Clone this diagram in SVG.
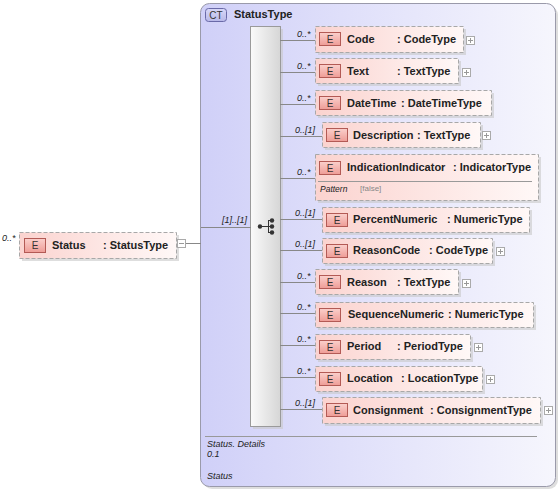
<svg xmlns="http://www.w3.org/2000/svg" width="560" height="491" viewBox="0 0 560 491">
<defs>
<linearGradient id="ctg" x1="0" y1="0" x2="1" y2="0">
<stop offset="0" stop-color="#d0d0f8"/>
<stop offset="1" stop-color="#f6f6fd"/>
</linearGradient>
<linearGradient id="eg" x1="0" y1="0" x2="1" y2="0">
<stop offset="0" stop-color="#fbd3cf"/>
<stop offset="1" stop-color="#fff8f7"/>
</linearGradient>
<linearGradient id="bg" x1="0" y1="0" x2="0" y2="1">
<stop offset="0" stop-color="#fbd0cc"/>
<stop offset="1" stop-color="#ee9c96"/>
</linearGradient>
<linearGradient id="sg" x1="0" y1="0" x2="1" y2="0">
<stop offset="0" stop-color="#fafafa"/>
<stop offset="1" stop-color="#d6d6d6"/>
</linearGradient>
<linearGradient id="ctb" x1="0" y1="0" x2="0" y2="1">
<stop offset="0" stop-color="#d8d8f8"/>
<stop offset="1" stop-color="#b8b8e8"/>
</linearGradient>
</defs>
<style>
text{font-family:"Liberation Sans",Arial,sans-serif;fill:#222}
.n{font-size:11px;font-weight:bold}
.m{font-size:9px;font-style:italic}
.b{font-size:10px;fill:#333}
.s{fill:#c8c8c8;opacity:0.6}
.ebox{fill:url(#eg);stroke:#a8a8a8;stroke-dasharray:4,2}
.badge{fill:url(#bg);stroke:#b35a55}
.pm{fill:#fff;stroke:#aaa}
.pml{stroke:#999;stroke-width:1}
.c{stroke:#888;stroke-width:1;fill:none}
</style>

<g id="complexType">
<rect x="203" y="6" width="355" height="483" rx="9" class="s"/>
<rect x="200.5" y="3.5" width="355" height="483" rx="9" fill="url(#ctg)" stroke="#9a9aaa"/>
<rect x="205.5" y="8.5" width="21" height="13" rx="3" fill="url(#ctb)" stroke="#6a6aa8"/>
<text x="216" y="19" class="b" text-anchor="middle" fill="#333">CT</text>
<text x="234" y="18" class="n">StatusType</text>
<line x1="205" y1="436.5" x2="537" y2="436.5" stroke="#999"/>
<text x="207" y="447" class="m">Status. Details</text>
<text x="207" y="457" class="m">0.1</text>
<text x="207" y="479" class="m">Status</text>
</g>

<g id="sequence">
<rect x="253" y="29" width="30" height="400" class="s"/>
<rect x="250.5" y="26.5" width="30" height="400" fill="url(#sg)" stroke="#9a9a9a"/>
<line x1="260" y1="226.5" x2="272" y2="226.5" stroke="#333"/>
<line x1="268.5" y1="221" x2="268.5" y2="233" stroke="#333"/>
<line x1="268" y1="220.5" x2="272" y2="220.5" stroke="#333"/>
<line x1="268" y1="232.5" x2="272" y2="232.5" stroke="#333"/>
<circle cx="260" cy="226.5" r="2.2" fill="#333"/>
<circle cx="272" cy="220.5" r="2.2" fill="#333"/>
<circle cx="272" cy="226.5" r="2.2" fill="#333"/>
<circle cx="272" cy="232.5" r="2.2" fill="#333"/>
</g>

<g id="connectors">
<line x1="186" y1="243.5" x2="201" y2="243.5" class="c"/>
<line x1="201" y1="227.5" x2="251" y2="227.5" class="c"/>
<line x1="280" y1="40.5" x2="315" y2="40.5" class="c"/>
<line x1="280" y1="72.5" x2="315" y2="72.5" class="c"/>
<line x1="280" y1="104.5" x2="315" y2="104.5" class="c"/>
<line x1="280" y1="136.5" x2="322" y2="136.5" class="c"/>
<line x1="280" y1="178.5" x2="315" y2="178.5" class="c"/>
<line x1="280" y1="219.5" x2="322" y2="219.5" class="c"/>
<line x1="280" y1="250.5" x2="322" y2="250.5" class="c"/>
<line x1="280" y1="282.5" x2="315" y2="282.5" class="c"/>
<line x1="280" y1="313.5" x2="315" y2="313.5" class="c"/>
<line x1="280" y1="345.5" x2="315" y2="345.5" class="c"/>
<line x1="280" y1="377.5" x2="315" y2="377.5" class="c"/>
<line x1="280" y1="409.5" x2="322" y2="409.5" class="c"/>
<text x="222" y="223" class="m">[1]..[1]</text>
<text x="2" y="241" class="m">0..*</text>
<text x="297" y="37" class="m">0..*</text>
<text x="297" y="69" class="m">0..*</text>
<text x="297" y="101" class="m">0..*</text>
<text x="295" y="133" class="m">0..[1]</text>
<text x="297" y="175" class="m">0..*</text>
<text x="295" y="216" class="m">0..[1]</text>
<text x="295" y="247" class="m">0..[1]</text>
<text x="297" y="279" class="m">0..*</text>
<text x="297" y="310" class="m">0..*</text>
<text x="297" y="342" class="m">0..*</text>
<text x="297" y="374" class="m">0..*</text>
<text x="295" y="406" class="m">0..[1]</text>
</g>

<g id="Status">
<rect x="22" y="235" width="157" height="26" class="s"/>
<rect x="19.5" y="232.5" width="157" height="26" class="ebox"/>
<rect x="24.5" y="238.5" width="21" height="14" class="badge"/>
<text x="35" y="249" class="b" text-anchor="middle">E</text>
<text x="52" y="249" class="n">Status</text>
<text x="103" y="249" class="n">: StatusType</text>
<rect x="177.5" y="239.5" width="8" height="8" class="pm"/>
<line x1="179" y1="243.5" x2="184" y2="243.5" class="pml"/>
</g>

<g id="Code">
<rect x="318" y="29" width="148" height="26" class="s"/>
<rect x="315.5" y="26.5" width="148" height="26" class="ebox"/>
<rect x="319.5" y="32.5" width="21" height="13" class="badge"/>
<text x="330" y="43" class="b" text-anchor="middle">E</text>
<text x="347" y="43" class="n">Code</text>
<text x="397" y="43" class="n">: CodeType</text>
<rect x="466.5" y="36.5" width="8" height="8" class="pm"/>
<line x1="468" y1="40.5" x2="473" y2="40.5" class="pml"/><line x1="470.5" y1="38" x2="470.5" y2="43" class="pml"/>
</g>

<g id="Text">
<rect x="318" y="61" width="143" height="25" class="s"/>
<rect x="315.5" y="58.5" width="143" height="25" class="ebox"/>
<rect x="319.5" y="64.5" width="21" height="13" class="badge"/>
<text x="330" y="75" class="b" text-anchor="middle">E</text>
<text x="347" y="75" class="n">Text</text>
<text x="397" y="75" class="n">: TextType</text>
<rect x="462.5" y="68.5" width="8" height="8" class="pm"/>
<line x1="464" y1="72.5" x2="469" y2="72.5" class="pml"/><line x1="466.5" y1="70" x2="466.5" y2="75" class="pml"/>
</g>

<g id="DateTime">
<rect x="318" y="93" width="176" height="25" class="s"/>
<rect x="315.5" y="90.5" width="176" height="25" class="ebox"/>
<rect x="319.5" y="96.5" width="21" height="13" class="badge"/>
<text x="330" y="107" class="b" text-anchor="middle">E</text>
<text x="347" y="107" class="n">DateTime</text>
<text x="401" y="107" class="n">: DateTimeType</text>
</g>

<g id="Description">
<rect x="325" y="125" width="158" height="25" class="s"/>
<rect x="322.5" y="122.5" width="158" height="25" class="ebox"/>
<rect x="326.5" y="128.5" width="21" height="13" class="badge"/>
<text x="337" y="139" class="b" text-anchor="middle">E</text>
<text x="353" y="139" class="n">Description</text>
<text x="417" y="139" class="n">: TextType</text>
<rect x="482.5" y="131.5" width="8" height="8" class="pm"/>
<line x1="484" y1="135.5" x2="489" y2="135.5" class="pml"/><line x1="486.5" y1="133" x2="486.5" y2="138" class="pml"/>
</g>

<g id="IndicationIndicator">
<rect x="318" y="157" width="223" height="46" class="s"/>
<rect x="315.5" y="154.5" width="223" height="46" class="ebox"/>
<rect x="319.5" y="161.5" width="21" height="13" class="badge"/>
<text x="330" y="172" class="b" text-anchor="middle">E</text>
<text x="347" y="171" class="n">IndicationIndicator</text>
<text x="453" y="171" class="n">: IndicatorType</text>
<line x1="318" y1="181.5" x2="532" y2="181.5" stroke="#999"/>
<text x="320" y="192" class="m" style="font-size:8.5px">Pattern</text>
<text x="360" y="191" style="font-size:8px;fill:#888">[false]</text>
</g>

<g id="PercentNumeric">
<rect x="325" y="210" width="207" height="25" class="s"/>
<rect x="322.5" y="207.5" width="207" height="25" class="ebox"/>
<rect x="326.5" y="213.5" width="21" height="13" class="badge"/>
<text x="337" y="224" class="b" text-anchor="middle">E</text>
<text x="353" y="223" class="n">PercentNumeric</text>
<text x="447" y="223" class="n">: NumericType</text>
</g>

<g id="ReasonCode">
<rect x="325" y="241" width="170" height="25" class="s"/>
<rect x="322.5" y="238.5" width="170" height="25" class="ebox"/>
<rect x="326.5" y="244.5" width="21" height="13" class="badge"/>
<text x="337" y="255" class="b" text-anchor="middle">E</text>
<text x="353" y="254" class="n">ReasonCode</text>
<text x="429" y="254" class="n">: CodeType</text>
<rect x="496.5" y="247.5" width="8" height="8" class="pm"/>
<line x1="498" y1="251.5" x2="503" y2="251.5" class="pml"/><line x1="500.5" y1="249" x2="500.5" y2="254" class="pml"/>
</g>

<g id="Reason">
<rect x="318" y="272" width="143" height="25" class="s"/>
<rect x="315.5" y="269.5" width="143" height="25" class="ebox"/>
<rect x="319.5" y="275.5" width="21" height="13" class="badge"/>
<text x="330" y="286" class="b" text-anchor="middle">E</text>
<text x="347" y="286" class="n">Reason</text>
<text x="397" y="286" class="n">: TextType</text>
<rect x="462.5" y="279.5" width="8" height="8" class="pm"/>
<line x1="464" y1="283.5" x2="469" y2="283.5" class="pml"/><line x1="466.5" y1="281" x2="466.5" y2="286" class="pml"/>
</g>

<g id="SequenceNumeric">
<rect x="318" y="305" width="218" height="25" class="s"/>
<rect x="315.5" y="302.5" width="218" height="25" class="ebox"/>
<rect x="319.5" y="308.5" width="21" height="13" class="badge"/>
<text x="330" y="319" class="b" text-anchor="middle">E</text>
<text x="348" y="318" class="n">SequenceNumeric</text>
<text x="448" y="318" class="n">: NumericType</text>
</g>

<g id="Period">
<rect x="318" y="337" width="155" height="25" class="s"/>
<rect x="315.5" y="334.5" width="155" height="25" class="ebox"/>
<rect x="319.5" y="340.5" width="21" height="13" class="badge"/>
<text x="330" y="351" class="b" text-anchor="middle">E</text>
<text x="347" y="350" class="n">Period</text>
<text x="397" y="350" class="n">: PeriodType</text>
<rect x="474.5" y="343.5" width="8" height="8" class="pm"/>
<line x1="476" y1="347.5" x2="481" y2="347.5" class="pml"/><line x1="478.5" y1="345" x2="478.5" y2="350" class="pml"/>
</g>

<g id="Location">
<rect x="318" y="369" width="167" height="25" class="s"/>
<rect x="315.5" y="366.5" width="167" height="25" class="ebox"/>
<rect x="319.5" y="372.5" width="21" height="13" class="badge"/>
<text x="330" y="383" class="b" text-anchor="middle">E</text>
<text x="347" y="382" class="n">Location</text>
<text x="401" y="382" class="n">: LocationType</text>
<rect x="486.5" y="375.5" width="8" height="8" class="pm"/>
<line x1="488" y1="379.5" x2="493" y2="379.5" class="pml"/><line x1="490.5" y1="377" x2="490.5" y2="382" class="pml"/>
</g>

<g id="Consignment">
<rect x="325" y="400" width="218" height="26" class="s"/>
<rect x="322.5" y="397.5" width="218" height="26" class="ebox"/>
<rect x="326.5" y="403.5" width="21" height="13" class="badge"/>
<text x="337" y="414" class="b" text-anchor="middle">E</text>
<text x="353" y="414" class="n">Consignment</text>
<text x="430" y="414" class="n">: ConsignmentType</text>
<rect x="544.5" y="406.5" width="8" height="8" class="pm"/>
<line x1="546" y1="410.5" x2="551" y2="410.5" class="pml"/><line x1="548.5" y1="408" x2="548.5" y2="413" class="pml"/>
</g>
</svg>
